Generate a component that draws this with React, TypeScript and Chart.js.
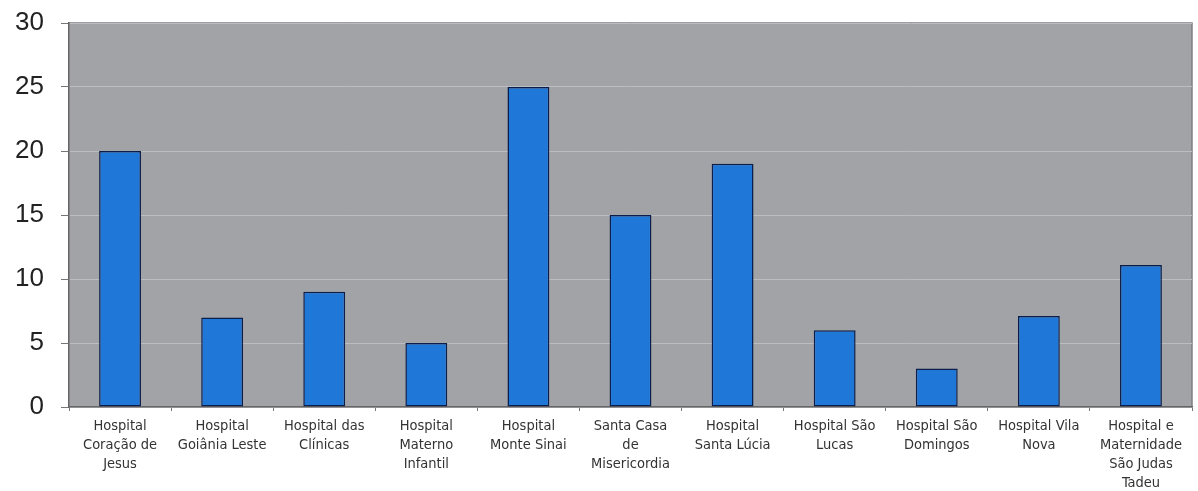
import React, { useEffect, useRef } from "react";
import { Chart, registerables } from "chart.js";

Chart.register(...registerables);

const categories: string[][] = [
  ["Hospital", "Coração de", "Jesus"],
  ["Hospital", "Goiânia Leste"],
  ["Hospital das", "Clínicas"],
  ["Hospital", "Materno", "Infantil"],
  ["Hospital", "Monte Sinai"],
  ["Santa Casa", "de", "Misericordia"],
  ["Hospital", "Santa Lúcia"],
  ["Hospital São", "Lucas"],
  ["Hospital São", "Domingos"],
  ["Hospital Vila", "Nova"],
  ["Hospital e", "Maternidade", "São Judas", "Tadeu"],
];

const values: number[] = [20, 7, 9, 5, 25, 15, 19, 6, 3, 7.1, 11.1];

const yMin = 0;
const yMax = 30;
const yStep = 5;

const plotBg = {
  id: "plotBg",
  beforeDraw(chart: any) {
    const { ctx, chartArea } = chart;
    if (!chartArea) return;
    ctx.save();
    ctx.fillStyle = "#a2a3a6";
    ctx.fillRect(chartArea.left, chartArea.top, chartArea.right - chartArea.left, chartArea.bottom - chartArea.top);
    ctx.strokeStyle = "#7d7f82";
    ctx.lineWidth = 1.5;
    ctx.beginPath();
    ctx.moveTo(chartArea.left, chartArea.top);
    ctx.lineTo(chartArea.right, chartArea.top);
    ctx.lineTo(chartArea.right, chartArea.bottom);
    ctx.stroke();
    ctx.restore();
  },
};

export default function App() {
  const ref = useRef<HTMLCanvasElement | null>(null);
  useEffect(() => {
    if (!ref.current) return;
    const chart = new Chart(ref.current, {
      type: "bar",
      data: {
        labels: categories,
        datasets: [
          {
            data: values,
            backgroundColor: "#1f78d8",
            borderColor: "#0b1d4a",
            borderWidth: 1.5,
            borderSkipped: false,
            categoryPercentage: 1,
            barPercentage: 0.41,
          },
        ],
      },
      options: {
        animation: false,
        responsive: false,
        maintainAspectRatio: false,
        layout: { padding: { top: 23, right: 6, left: 0, bottom: 0 } },
        plugins: { legend: { display: false }, tooltip: { enabled: false } },
        scales: {
          x: {
            grid: {
              offset: true,
              drawOnChartArea: false,
              drawTicks: true,
              tickLength: 4,
              color: "#777",
            },
            border: { display: true, color: "#666", width: 1.5 },
            ticks: {
              maxRotation: 0,
              autoSkip: false,
              padding: 6,
              color: "#333",
              font: { family: "'Liberation Sans Narrow', 'DejaVu Sans Condensed', Arial, sans-serif", size: 14.5, lineHeight: 1.31 },
            },
            afterFit(axis: any) {
              axis.height = 84;
            },
          },
          y: {
            min: yMin,
            max: yMax,
            grid: {
              color: "#bcbdc0",
              lineWidth: 1,
              tickLength: 8,
              tickColor: "#777",
              drawTicks: true,
            },
            border: { display: true, color: "#666", width: 1.5 },
            ticks: {
              stepSize: yStep,
              padding: 17,
              color: "#222",
              font: { family: "Arial, 'Liberation Sans', sans-serif", size: 26 },
            },
            afterFit(axis: any) {
              axis.width = 69;
              axis.paddingTop = 0;
              axis.paddingBottom = 0;
            },
          },
        },
      },
      plugins: [plotBg],
    });
    return () => chart.destroy();
  }, []);
  return (
    <div style={{ position: "fixed", left: 0, top: 0, width: 1198, height: 491, background: "#fff" }}>
      <canvas ref={ref} width={1198} height={491} style={{ width: 1198, height: 491 }} />
    </div>
  );
}
